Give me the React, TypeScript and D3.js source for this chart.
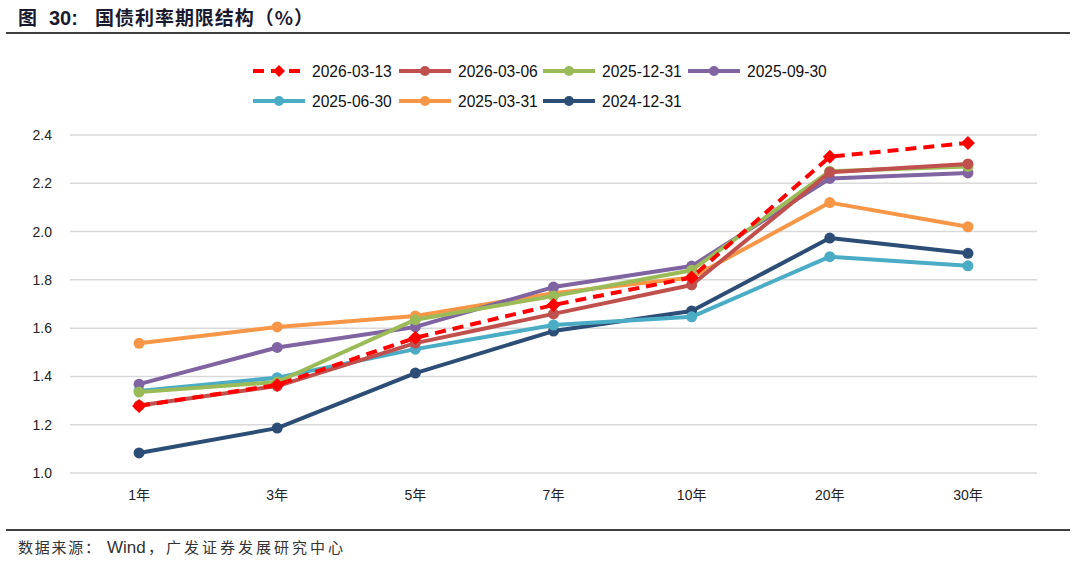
import React from 'react';
import * as d3 from 'd3';

const categories = ['1年', '3年', '5年', '7年', '10年', '20年', '30年'];
const yTicks = [1.0, 1.2, 1.4, 1.6, 1.8, 2.0, 2.2, 2.4];

const s20260313 = [1.278, 1.365, 1.56, 1.696, 1.81, 2.31, 2.367];
const s20260306 = [1.28, 1.36, 1.538, 1.659, 1.779, 2.246, 2.28];
const s20251231 = [1.335, 1.377, 1.635, 1.733, 1.84, 2.25, 2.27];
const s20250930 = [1.368, 1.52, 1.605, 1.77, 1.857, 2.22, 2.243];
const s20250630 = [1.34, 1.395, 1.513, 1.613, 1.647, 1.896, 1.858];
const s20250331 = [1.537, 1.605, 1.65, 1.745, 1.81, 2.12, 2.02];
const s20241231 = [1.083, 1.186, 1.414, 1.588, 1.671, 1.973, 1.91];

type Series = { name: string; values: number[]; color: string; dashed?: boolean };

const series: Series[] = [
  { name: '2026-03-13', values: s20260313, color: '#FF0000', dashed: true },
  { name: '2026-03-06', values: s20260306, color: '#C0504D' },
  { name: '2025-12-31', values: s20251231, color: '#9BBB59' },
  { name: '2025-09-30', values: s20250930, color: '#8064A2' },
  { name: '2025-06-30', values: s20250630, color: '#4BACC6' },
  { name: '2025-03-31', values: s20250331, color: '#F79646' },
  { name: '2024-12-31', values: s20241231, color: '#2C4D75' },
];

// drawing order: red dashed on top
const drawOrder = [6, 5, 4, 3, 2, 1, 0];

const W = 1080;
const H = 561;
const plot = { left: 70, right: 1037, top: 135, bottom: 473 };
const font = '"Liberation Sans", Arial, "Noto Sans CJK SC", sans-serif';
const cjkFont = '"Noto Sans CJK SC", "Liberation Sans", sans-serif';

function App() {
  const x = d3
    .scaleBand<string>()
    .domain(categories)
    .range([plot.left, plot.right]);
  const y = d3.scaleLinear().domain([1.0, 2.4]).range([plot.bottom, plot.top]);
  const cx = (c: string) => (x(c) as number) + x.bandwidth() / 2;

  const line = d3
    .line<number>()
    .x((_, i) => cx(categories[i]))
    .y((d) => y(d));

  const diamond = (px: number, py: number, r: number) =>
    `M${px},${py - r}L${px + r},${py}L${px},${py + r}L${px - r},${py}Z`;

  const legendCols = [253, 399, 543, 688];
  const legendRows = [71, 101];

  return (
    <svg
      width={W}
      height={H}
      viewBox={`0 0 ${W} ${H}`}
      style={{ position: 'absolute', left: 0, top: 0, background: '#fff' }}
      fontFamily={font}
    >
      <g className="title" fontWeight="bold" fill="#1a1a2e" fontSize={19}>
        <text x={18} y={25} fontFamily={cjkFont}>图</text>
        <text x={49} y={25} fontSize={20}>30:</text>
        <text
          x={95}
          y={25}
          fontFamily={cjkFont}
          textLength={218}
          lengthAdjust="spacing"
        >
          国债利率期限结构（%）
        </text>
      </g>
      <line x1={6} x2={1070} y1={33} y2={33} stroke="#000" strokeWidth={1.5} />

      <g className="grid">
        {yTicks.map((t) => (
          <g key={t}>
            <line
              x1={plot.left}
              x2={plot.right}
              y1={y(t)}
              y2={y(t)}
              stroke="#d9d9d9"
              strokeWidth={1.5}
            />
            <text
              x={52}
              y={y(t) + 5}
              textAnchor="end"
              fontSize={14}
              fill="#222"
            >
              {t.toFixed(1)}
            </text>
          </g>
        ))}
      </g>

      <g className="xaxis">
        {categories.map((c) => (
          <text
            key={c}
            x={cx(c)}
            y={500}
            textAnchor="middle"
            fontSize={14}
            fill="#222"
          >
            {c}
          </text>
        ))}
      </g>

      <g className="data">
        {drawOrder.map((si) => {
          const s = series[si];
          return (
            <g key={s.name}>
              <path
                d={line(s.values) || ''}
                fill="none"
                stroke={s.color}
                strokeWidth={4}
                strokeDasharray={s.dashed ? '11,7' : undefined}
                strokeLinejoin="round"
              />
              {s.values.map((v, i) =>
                s.dashed ? (
                  <path
                    key={i}
                    d={diamond(cx(categories[i]), y(v), 7)}
                    fill={s.color}
                  />
                ) : (
                  <circle
                    key={i}
                    cx={cx(categories[i])}
                    cy={y(v)}
                    r={5.5}
                    fill={s.color}
                  />
                )
              )}
            </g>
          );
        })}
      </g>

      <g className="legend">
        {series.map((s, i) => {
          const lx = legendCols[i % 4];
          const ly = legendRows[Math.floor(i / 4)];
          const mid = lx + 26;
          return (
            <g key={s.name}>
              <line
                x1={lx}
                x2={lx + 52}
                y1={ly}
                y2={ly}
                stroke={s.color}
                strokeWidth={4}
                strokeDasharray={s.dashed ? '11,7' : undefined}
              />
              {s.dashed ? (
                <path d={diamond(mid, ly, 6)} fill={s.color} />
              ) : (
                <circle cx={mid} cy={ly} r={5} fill={s.color} />
              )}
              <text x={lx + 59} y={ly + 6} fontSize={15.6} fill="#111">
                {s.name}
              </text>
            </g>
          );
        })}
      </g>

      <line x1={6} x2={1070} y1={530} y2={530} stroke="#000" strokeWidth={1.5} />
      <g className="source" fontSize={15} fill="#333">
        <text x={18} y={553} fontFamily={cjkFont} textLength={82} lengthAdjust="spacing">
          数据来源：
        </text>
        <text x={107} y={553} fontSize={17}>Wind</text>
        <text x={148} y={553} fontFamily={cjkFont} textLength={195} lengthAdjust="spacing">
          ，广发证券发展研究中心
        </text>
      </g>
    </svg>
  );
}

export default App;
